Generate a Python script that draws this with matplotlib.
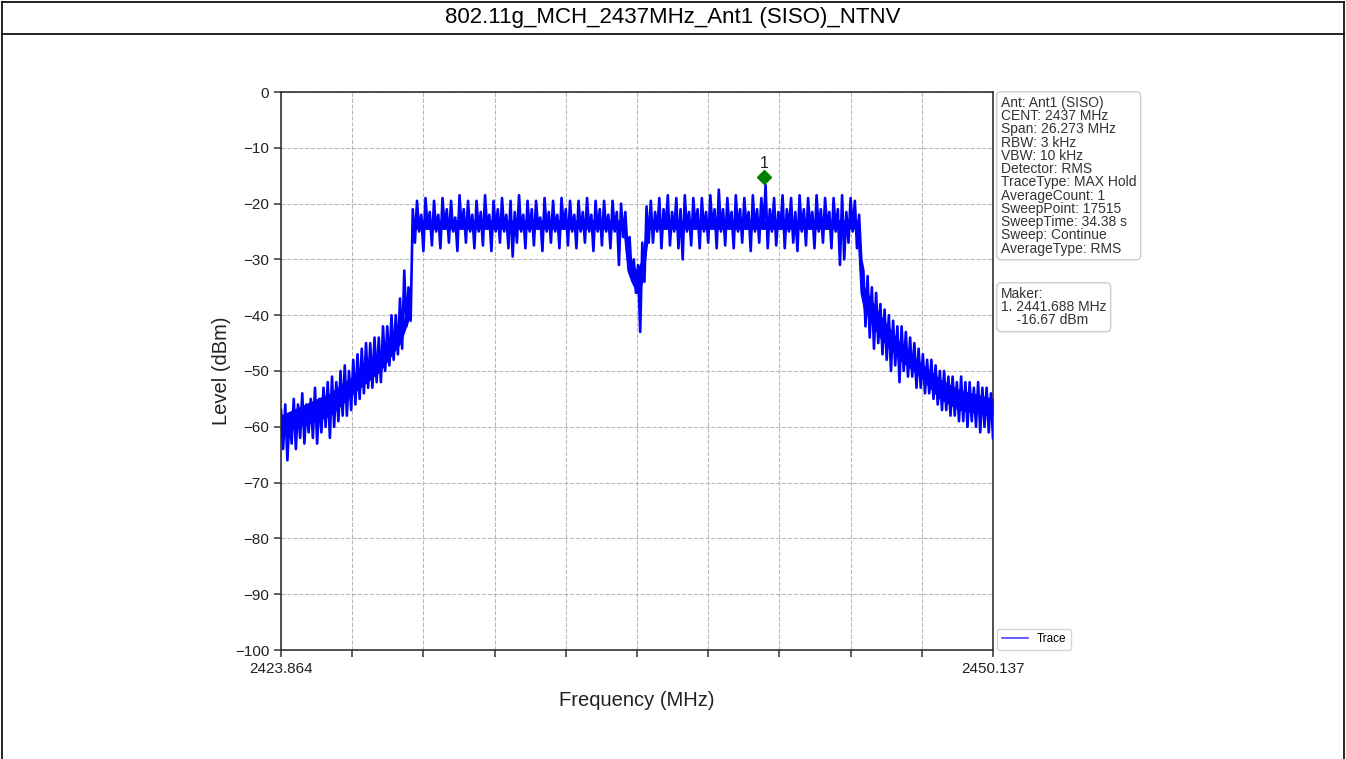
import numpy as np
import matplotlib
matplotlib.use("Agg")
import matplotlib.pyplot as plt
from matplotlib.lines import Line2D

plt.rcParams['font.family'] = ['Liberation Sans', 'DejaVu Sans']

# ---------------- data ----------------
title = "802.11g_MCH_2437MHz_Ant1 (SISO)_NTNV"
f_start, f_stop = 2423.864, 2450.137
x_tick_labels = ["2423.864", "2450.137"]
y_ticks = [0, -10, -20, -30, -40, -50, -60, -70, -80, -90, -100]

# Trace: max / min level (dBm) in each of 168 equal frequency bins
left_skirt_upper = [-57, -56, -58, -55, -56, -54, -56, -55, -53, -55, -53, -52, -51, -52, -50, -49,
                    -50, -48, -47, -46, -45, -45, -44, -44, -42, -42, -40, -40, -37, -32, -35]
left_skirt_lower = [-64, -66, -63, -64, -62, -63, -61, -62, -63, -61, -60, -62, -60, -59, -58, -58,
                    -57, -56, -55, -54, -53, -53, -52, -52, -50, -49, -48, -47, -46, -42, -41]
left_plateau_upper = [-21, -19.5, -22, -19, -21.5, -19.5, -22, -19, -21, -19.5,
                      -22.5, -18.5, -21, -19.5, -22, -19.5, -21.5, -18.5, -22, -19.5,
                      -21, -19, -22, -19.5, -21.5, -18.5, -22, -19.5, -21, -19.5,
                      -22.5, -19, -21.5, -19.5, -22, -19, -21, -19.5, -22, -19.5,
                      -21.5, -19, -22, -19.5, -21, -19.5, -22, -19.5, -21.5, -20]
left_plateau_lower = [-27, -25, -28.5, -24.5, -27.5, -25, -28, -24.5, -27, -25,
                      -28.5, -24.5, -27, -25, -28, -25, -27.5, -24.5, -28.5, -25,
                      -27, -25, -28, -29.5, -27, -25, -28, -25, -27.5, -24.5,
                      -28.5, -25, -27, -25, -28, -24.5, -27.5, -25, -28, -25,
                      -27, -25, -28.5, -25, -27.5, -25, -28, -25, -31, -26]
dip_upper = [-21.5, -26, -30, -31, -27, -20.5]
dip_lower = [-28, -33, -36, -43, -34, -27]
right_plateau_upper = [-19.5, -21.5, -19, -21, -18.5, -21.5, -19, -21, -18.5, -21.5,
                       -19, -21, -19, -21.5, -18.5, -21, -17.5, -21, -19, -21.5,
                       -18.5, -21, -19, -21.5, -18.5, -21, -19, -16.67, -21, -19,
                       -21.5, -18.5, -21, -19, -21.5, -18.5, -21, -19, -21.5, -18.5,
                       -21, -19, -21.5, -19, -21, -18.5, -21.5, -19, -19.5]
right_plateau_lower = [-27, -25, -28, -24.5, -27.5, -25, -28, -30, -25, -27.5,
                       -24.5, -28, -25, -27, -24.5, -28, -25, -27.5, -24.5, -28,
                       -25, -27, -24.5, -28.5, -25, -27, -24.5, -28, -25, -27.5,
                       -24.5, -28, -25, -27, -28.5, -25, -27.5, -24.5, -28, -25,
                       -27, -24.5, -28, -25, -31, -30, -27, -25, -28]
right_skirt_upper = [-22, -32, -33, -35, -36, -38, -39, -40, -41, -42, -42, -43, -44, -45, -46, -47,
                     -48, -48, -49, -50, -50, -51, -51, -52, -51, -52, -52, -53, -52, -53, -53, -54]
right_skirt_lower = [-30, -42, -44, -46, -45, -47, -48, -50, -49, -52, -50, -51, -51, -53, -53, -54,
                     -54, -55, -56, -57, -57, -58, -58, -59, -59, -60, -59, -60, -61, -60, -61, -62]

# Dense core of the trace (where the blue is solid), read at a few frequencies
core_freq = [2423.864, 2425.67, 2426.52, 2427.52, 2428.26, 2428.63, 2428.71,
             2436.50, 2436.65, 2436.80, 2437.00, 2437.20, 2437.35, 2437.45,
             2445.13, 2445.25, 2445.38, 2445.97, 2446.71, 2447.45, 2448.18, 2448.92, 2450.137]
core_high = [-58, -54, -51, -47, -43, -37, -23,
             -23, -28, -31, -32, -30, -24, -23,
             -23, -30, -35, -40, -45, -48.5, -51.5, -53.5, -55]
core_low = [-61, -58, -54, -50, -45, -40, -24.5,
            -24.5, -32, -34, -36, -34, -28, -24.5,
            -24.5, -36, -39, -44, -48, -51, -55, -57, -58]

marker_freq = 2441.688
marker_level = -16.67

info_lines = ["Ant: Ant1 (SISO)", "CENT: 2437 MHz", "Span: 26.273 MHz", "RBW: 3 kHz",
              "VBW: 10 kHz", "Detector: RMS", "TraceType: MAX Hold", "AverageCount: 1",
              "SweepPoint: 17515", "SweepTime: 34.38 s", "Sweep: Continue", "AverageType: RMS"]
marker_lines = ["Maker:", "1. 2441.688 MHz", "    -16.67 dBm"]

# ---------------- build trace ----------------
upper = np.array(left_skirt_upper + left_plateau_upper + dip_upper + right_plateau_upper + right_skirt_upper)
lower = np.array(left_skirt_lower + left_plateau_lower + dip_lower + right_plateau_lower + right_skirt_lower)
n_bins = len(upper)
levels = np.empty(2 * n_bins)
levels[0::2] = upper
levels[1::2] = lower
freqs = np.linspace(f_start, f_stop, 2 * n_bins)

# ---------------- figure ----------------
fig = plt.figure(figsize=(13.46, 7.59), dpi=100)
W, H = 1346, 759
ax = fig.add_axes([281 / W, 1 - 650 / H, (993 - 281) / W, (650 - 92) / H])

ax.fill_between(core_freq, core_low, core_high, color='blue', linewidth=0.8, edgecolor='blue', zorder=2)
line, = ax.plot(freqs, levels, color='blue', lw=1.9, label='Trace', zorder=3)
ax.plot([marker_freq], [marker_level + 1.5], marker='D', color='green', markersize=7,
        linestyle='none', zorder=4)
ax.text(marker_freq, marker_level + 2.6, "1", ha='center', va='bottom', fontsize=11.5, color='#222222')

ax.set_xlim(f_start, f_stop)
ax.set_ylim(-100, 0)
xt = np.linspace(f_start, f_stop, 11)
ax.set_xticks(xt)
ax.set_xticklabels([x_tick_labels[0]] + [""] * 9 + [x_tick_labels[1]])
ax.set_yticks(y_ticks)
ax.tick_params(axis='both', labelsize=11, colors='#333333', length=5, width=1.1)
ax.tick_params(axis='both', labelcolor='#222222')
ax.grid(True, color='#b8b8b8', linestyle='--', linewidth=0.8)
ax.set_axisbelow(True)
for s in ax.spines.values():
    s.set_color('#333333')
    s.set_linewidth(1.2)

ax.set_xlabel("Frequency (MHz)", fontsize=14.5, color='#222222', labelpad=11)
ax.set_ylabel("Level (dBm)", fontsize=14.5, color='#222222', labelpad=3)

box = dict(boxstyle='round,pad=0.3', facecolor='white', edgecolor='#cccccc', linewidth=1.0)
ax.text(1.0112, 0.9928, "\n".join(info_lines), transform=ax.transAxes, va='top', ha='left',
        fontsize=10, color='#333333', linespacing=0.93, bbox=box)
ax.text(1.0112, 0.6505, "\n".join(marker_lines), transform=ax.transAxes, va='top', ha='left',
        fontsize=10, color='#333333', linespacing=0.93, bbox=box)

leg = ax.legend(handles=[line], loc='lower left', bbox_to_anchor=(1.0056, 0.0), borderaxespad=0.0,
                fontsize=8.5, frameon=True, handlelength=2.2)
leg.get_frame().set_edgecolor('#cccccc')
leg.get_lines()[0].set_linewidth(1.2)
leg.get_lines()[0].set_color('#4444ff')

# outer frame and title row
lw = 1.2
fig.add_artist(Line2D([2 / W, 1344 / W], [1 - 2 / H, 1 - 2 / H], transform=fig.transFigure, color='black', lw=lw))
fig.add_artist(Line2D([2 / W, 1344 / W], [1 - 34 / H, 1 - 34 / H], transform=fig.transFigure, color='black', lw=lw))
fig.add_artist(Line2D([2 / W, 2 / W], [0, 1 - 2 / H], transform=fig.transFigure, color='black', lw=lw))
fig.add_artist(Line2D([1344 / W, 1344 / W], [0, 1 - 2 / H], transform=fig.transFigure, color='black', lw=lw))
fig.text(0.5, 1 - 18 / H, title, ha='center', va='center', fontsize=16, color='black')

fig.savefig("out.png", dpi=100)
